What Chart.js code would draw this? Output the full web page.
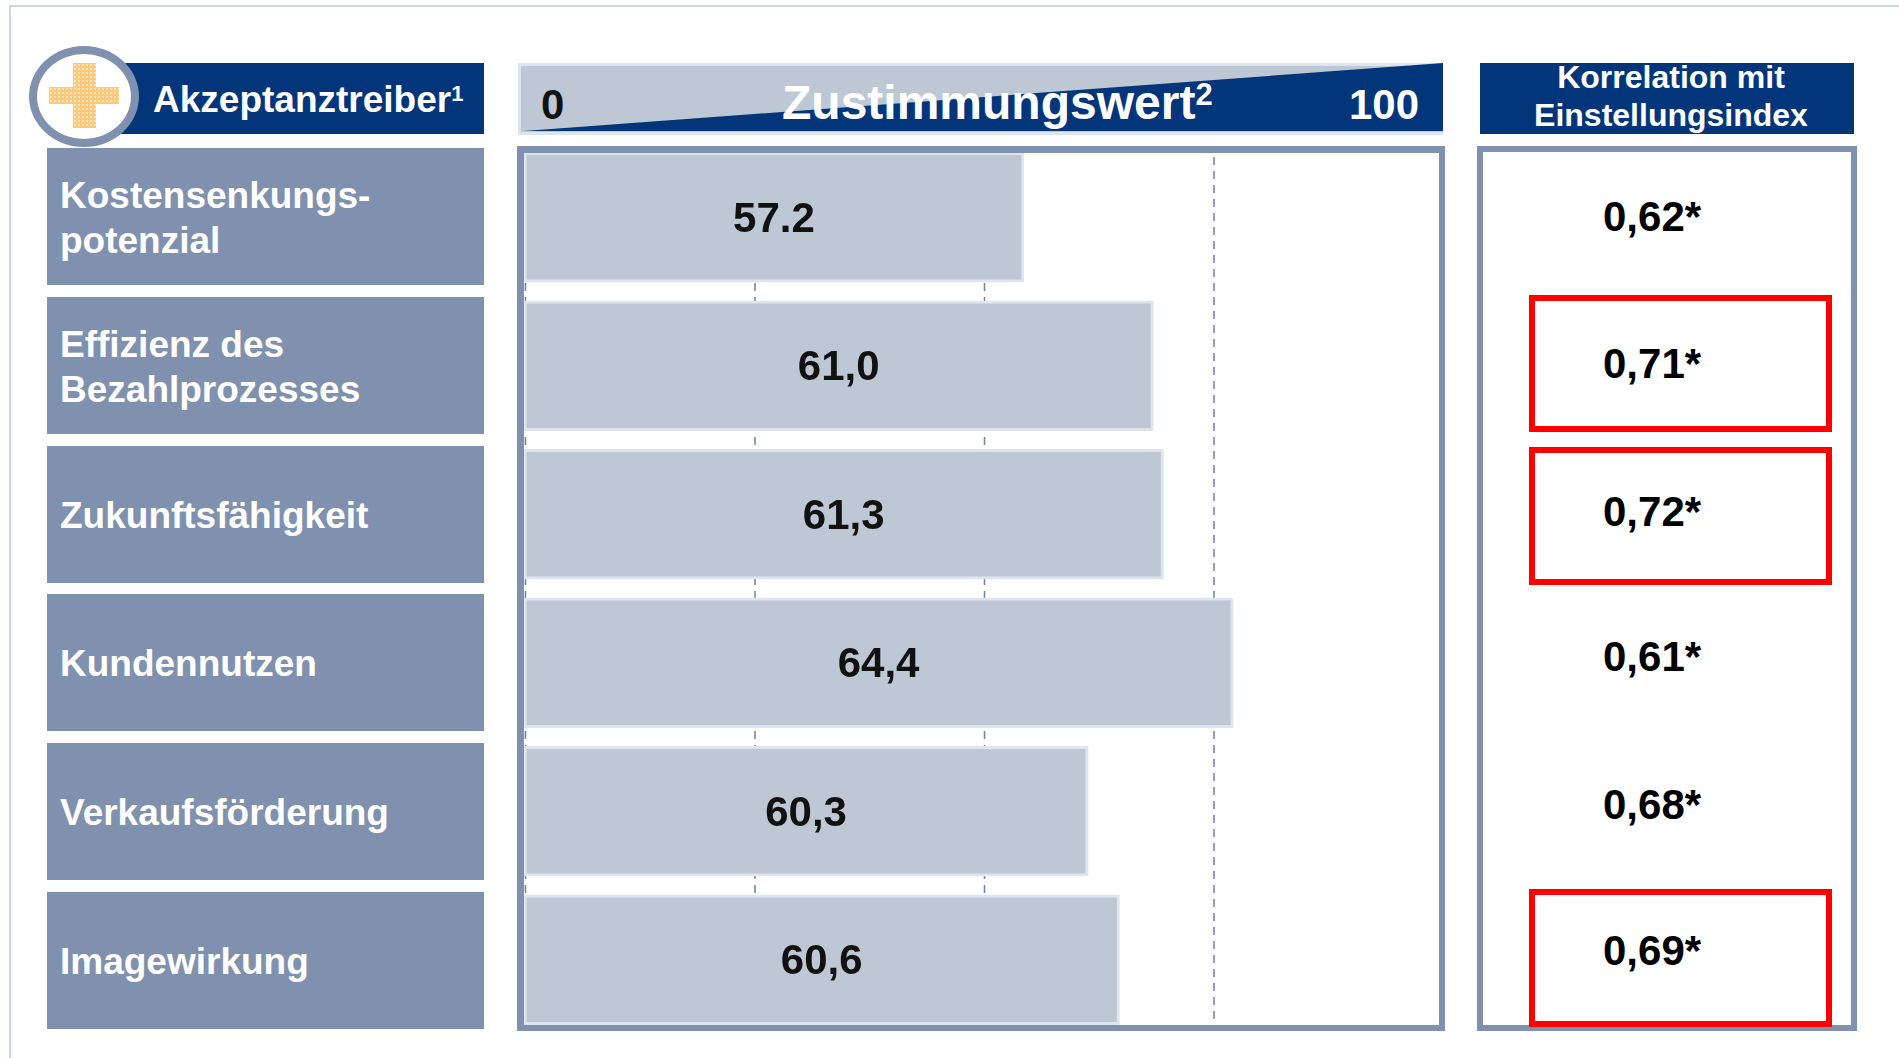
<!DOCTYPE html>
<html lang="de">
<head>
<meta charset="utf-8">
<title>Akzeptanztreiber</title>
<script src="https://cdn.jsdelivr.net/npm/chart.js@4"></script>
<style>
    html, body { margin: 0; padding: 0; background: #fff; width: 1899px; height: 1058px; overflow: hidden; }
    body { position: relative; font-family: "Liberation Sans", Arial, sans-serif; font-weight: bold; }
    body > div, body > canvas { position: absolute; box-sizing: border-box; }

    /* page frame */
    #frameTop { left: 9px; top: 5px; width: 1890px; height: 2px; background: #cdd7e2; }
    #frameLeft { left: 9px; top: 5px; width: 2px; height: 1053px; background: #cdd7e2; }

    /* left header with badge */
    #driverHeader { left: 120px; top: 63px; width: 364px; height: 71px; background: #03357a; }
    #driverTitle { left: 153px; top: 77px; font-size: 37px; line-height: 46px; color: #fff; white-space: nowrap; }
    #driverTitle sup, #scoreTitle sup { line-height: 0; vertical-align: baseline; position: relative; }
    #driverTitle sup { font-size: 22px; top: -11px; }
    #badge { left: 29px; top: 46px; width: 110px; height: 101px; border: 8px solid #7f91ae; border-radius: 50%; background: #fff; }
    .cross { background-color: #fbc97c; background-image: radial-gradient(circle, #fde3b8 1px, transparent 1.2px); background-size: 4px 4px; }
    #crossV { left: 73px; top: 63px; width: 23px; height: 65px; }
    #crossH { left: 49px; top: 87px; width: 70px; height: 17px; }

    /* category boxes */
    .driver { left: 47px; width: 437px; height: 137px; background: #7f91ae; color: #fff; font-size: 37px; line-height: 45px;
              padding: 2px 0 0 13px; display: flex; align-items: center; white-space: pre-line; }
    .driver.r0 { top: 148px; }
    .driver.r1 { top: 297px; }
    .driver.r2 { top: 446px; }
    .driver.r3 { top: 594px; }
    .driver.r4 { top: 743px; }
    .driver.r5 { top: 892px; }

    /* score header wedge */
    #scoreHeader { left: 518px; top: 63px; width: 925px; height: 72px; background: #bdc8d4; border: 3px solid #dfe5ee; border-right: 0; }
    #scoreWedge { left: 524px; top: 63px; width: 919px; height: 68px; background: #03357a; clip-path: polygon(0 100%, 100% 0, 100% 100%); }
    #scoreTitle { left: 782px; top: 75px; font-size: 48px; line-height: 56px; color: #fff; white-space: nowrap; }
    #scoreTitle sup { font-size: 31px; top: -14px; }
    #scoreMin, #scoreMax { top: 81px; font-size: 42px; line-height: 48px; white-space: nowrap; }
    #scoreMin { left: 541px; color: #111; }
    #scoreMax { left: 1349px; color: #fff; }

    /* panels */
    #chartWrap { left: 500px; top: 143px; width: 960px; height: 891px; }
    .panel { top: 146px; height: 885px; border: 6px solid #7f91ae; }
    #barPanel { left: 517px; width: 928px; border-width: 7px 6px 6px 7px; }
    #corrPanel { left: 1477px; width: 380px; }

    /* correlation column */
    #corrHeader { left: 1480px; top: 63px; width: 374px; height: 71px; background: #03357a; }
    #corrTitle { left: 1484px; top: 58px; width: 374px; color: #fff; font-size: 32px; line-height: 38px; text-align: center; white-space: pre-line; }
    .corr { left: 1603px; height: 48px; font-size: 42px; line-height: 48px; color: #000; white-space: nowrap; }
    .corr.r0 { top: 193px; }
    .corr.r1 { top: 340px; }
    .corr.r2 { top: 488px; }
    .corr.r3 { top: 633px; }
    .corr.r4 { top: 781px; }
    .corr.r5 { top: 927px; }
    .mark { left: 1529px; width: 303px; border: 6px solid #ff0000; }
    .mark.r1 { top: 295px; height: 137px; }
    .mark.r2 { top: 447px; height: 138px; }
    .mark.r5 { top: 889px; height: 138px; }
</style>
</head>
<body>
<div id="frameTop"></div>
<div id="frameLeft"></div>

<div id="driverHeader"></div>
<div id="driverTitle">Akzeptanztreiber<sup>1</sup></div>
<div id="badge"></div>
<div id="crossV" class="cross"></div>
<div id="crossH" class="cross"></div>

<div id="scoreHeader"></div>
<div id="scoreWedge"></div>
<div id="scoreTitle">Zustimmungswert<sup>2</sup></div>
<div id="scoreMin"></div>
<div id="scoreMax"></div>

<div id="corrHeader"></div>
<div id="corrTitle"></div>

<canvas id="chartWrap" width="960" height="891"></canvas>
<div id="barPanel" class="panel"></div>
<div id="corrPanel" class="panel"></div>

<script>
const categories = ['Kostensenkungs-\npotenzial', 'Effizienz des\nBezahlprozesses', 'Zukunftsfähigkeit', 'Kundennutzen', 'Verkaufsförderung', 'Imagewirkung'];

// printed scores, as they stand in the picture
const valueLabels = ['57.2', '61,0', '61,3', '64,4', '60,3', '60,6'];

// bar lengths measured against the dashed 0-100 grid. The source does not draw
// its bars to scale with the printed scores, so these differ from valueLabels.
const barLengths = [54.3, 68.4, 69.5, 77.1, 61.3, 64.7];

const correlations = ['0,62*', '0,71*', '0,72*', '0,61*', '0,68*', '0,69*'];
const markedRows = [1, 2, 5];

const axisMin = 0;
const axisMax = 100;
const gridStep = 25;
const barStart = -0.17; // bars begin just left of the zero line and hide it
const corrHeading = 'Korrelation mit\nEinstellungsindex';

// --- TEXT BOXES ---
function addBox(className, text) {
    const el = document.createElement('div');
    el.className = className;
    el.textContent = text;
    document.body.appendChild(el);
}

categories.forEach((name, i) => addBox(`driver r${i}`, name));
markedRows.forEach(i => addBox(`mark r${i}`, ''));
correlations.forEach((val, i) => addBox(`corr r${i}`, val));

document.getElementById('scoreMin').textContent = axisMin;
document.getElementById('scoreMax').textContent = axisMax;
document.getElementById('corrTitle').textContent = corrHeading;

// --- DASHED GRID (stops short of the panel edge, and 100 sits under the border) ---
const dashedGrid = {
    id: 'dashedGrid',
    beforeDatasetsDraw(chart) {
        const { ctx, scales: { x } } = chart;
        ctx.save();
        ctx.strokeStyle = '#6d80a0';
        ctx.lineWidth = 1.5;
        ctx.setLineDash([8, 6]);
        x.ticks.forEach(tick => {
            if (tick.value >= axisMax) return;
            const px = x.getPixelForValue(tick.value);
            ctx.beginPath();
            ctx.moveTo(px, 14);
            ctx.lineTo(px, 876);
            ctx.stroke();
        });
        ctx.restore();
    }
};

// --- VALUE LABELS IN THE BARS ---
const barValues = {
    id: 'barValues',
    afterDatasetsDraw(chart) {
        const { ctx } = chart;
        ctx.save();
        ctx.font = 'bold 42px "Liberation Sans"';
        ctx.fillStyle = '#111';
        ctx.textAlign = 'center';
        ctx.textBaseline = 'middle';
        chart.getDatasetMeta(0).data.forEach((bar, i) => {
            const p = bar.getCenterPoint();
            ctx.fillText(valueLabels[i], p.x, p.y + 3);
        });
        ctx.restore();
    }
};

new Chart(document.getElementById('chartWrap'), {
    type: 'bar',
    data: {
        labels: categories,
        datasets: [{
            data: barLengths.map(v => [barStart, v]),
            backgroundColor: '#bdc8d4',
            borderColor: '#dfe5ee',
            borderWidth: 3,
            borderSkipped: false,
            barThickness: 130,
            clip: false
        }]
    },
    options: {
        indexAxis: 'y',
        responsive: false,
        animation: false,
        layout: { padding: { left: 25.5, right: 16.5, top: 0, bottom: 0 } },
        plugins: { legend: { display: false }, tooltip: { enabled: false } },
        scales: {
            x: {
                display: false,
                min: axisMin,
                max: axisMax,
                ticks: { stepSize: gridStep }
            },
            y: { display: false }
        }
    },
    plugins: [dashedGrid, barValues]
});
</script>
</body>
</html>
